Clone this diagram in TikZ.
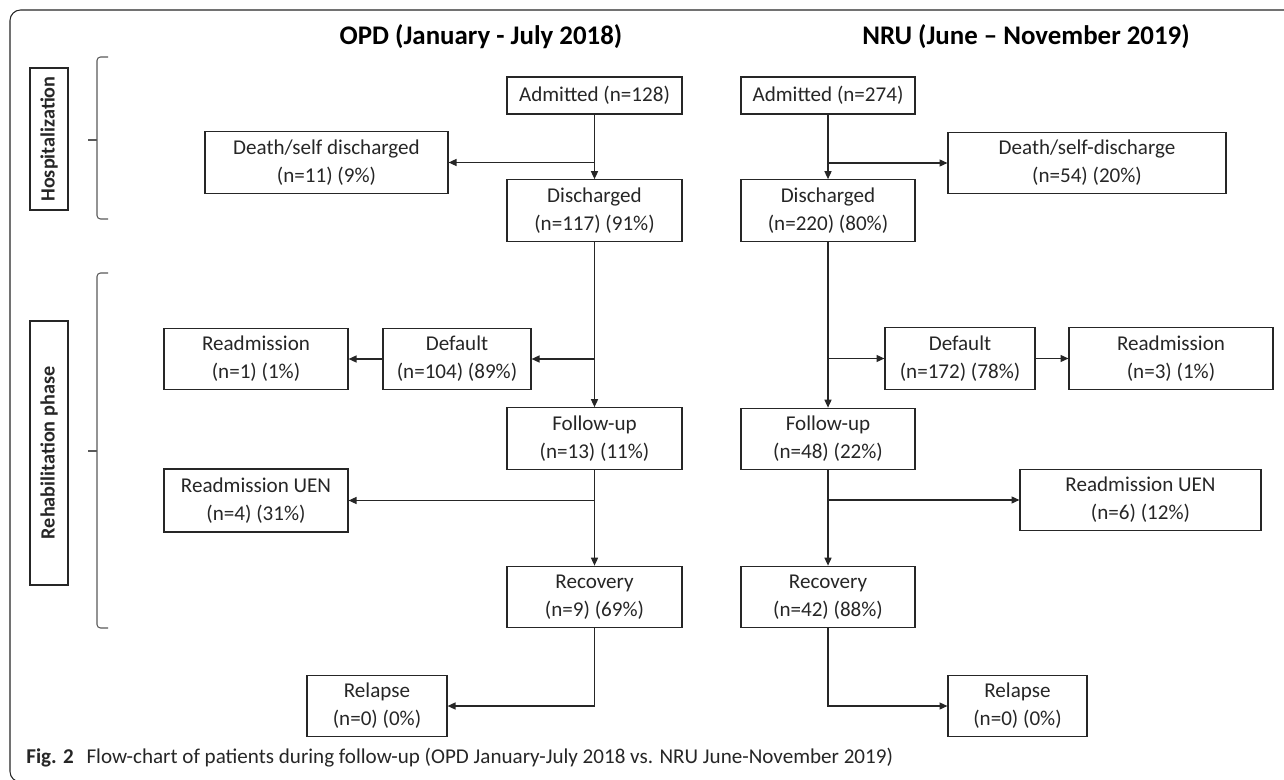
\documentclass[tikz,border=0pt]{standalone}
\usepackage{fontspec}
\setmainfont{Carlito}
\usepackage{xcolor}
\usepackage{tikz}
\usetikzlibrary{arrows.meta}

\definecolor{inkgray}{HTML}{262626}
\definecolor{bracegray}{HTML}{595959}

\begin{document}
\begin{tikzpicture}[
    x=0.02cm, y=-0.02cm,
    box/.style={draw=inkgray, line width=0.7pt, rectangle, inner sep=0pt, align=center, text=inkgray, font=\fontsize{12}{16}\selectfont, minimum height=1.23cm},
    phasebox/.style={draw=inkgray, line width=0.7pt, rotate=90, inner sep=0pt, minimum height=0.76cm, text=inkgray, font=\bfseries\fontsize{11.5}{14}\selectfont},
    arr/.style={draw=inkgray, line width=0.7pt, -{Triangle[length=4.5pt,width=4pt]}},
    brace/.style={draw=bracegray, line width=0.6pt, rounded corners=2pt}
]
\useasboundingbox (0,0) rectangle (1284,780);
\draw[inkgray, line width=0.6pt, rounded corners=6pt] (1290,10) -- (10,10) -- (10,782) -- (1290,782);

\node[font=\bfseries\fontsize{15.3}{18}\selectfont, text=black] (opdtitle) at (481,37) {OPD (January - July 2018)};
\node[font=\bfseries\fontsize{15.3}{18}\selectfont, text=black] (nrutitle) at (1026,37) {NRU (June – November 2019)};

\node[phasebox, minimum width=2.84cm] (hosp) at (49,139) {Hospitalization};
\node[phasebox, minimum width=5.28cm] (rehab) at (49,453) {Rehabilitation phase};
\draw[brace] (108,57) -- (97,57) -- (97,219) -- (108,219);
\draw[brace] (97,140) -- (88,140);
\draw[brace] (108,273) -- (97,273) -- (97,628) -- (108,628);
\draw[brace] (97,451) -- (88,451);

\node[box, minimum width=3.5cm, minimum height=0.74cm] (admO) at (594.5,95.5) {Admitted (n=128)};
\node[box, minimum width=4.86cm] (deathO) at (326.5,162.5) {Death/self discharged\\(n=11) (9\%)};
\node[box, minimum width=3.5cm] (disO) at (594.5,210.5) {Discharged\\(n=117) (91\%)};
\node[box, minimum width=2.96cm] (defO) at (457,359) {Default\\(n=104) (89\%)};
\node[box, minimum width=3.68cm] (readO) at (256,359) {Readmission\\(n=1) (1\%)};
\node[box, minimum width=3.5cm] (fupO) at (594.5,438.5) {Follow-up\\(n=13) (11\%)};
\node[box, minimum width=3.68cm, minimum height=1.26cm] (ruenO) at (256,500.5) {Readmission UEN\\(n=4) (31\%)};
\node[box, minimum width=3.5cm] (recO) at (594.5,597) {Recovery\\(n=9) (69\%)};
\node[box, minimum width=2.8cm] (relO) at (377,706) {Relapse\\(n=0) (0\%)};

\node[box, minimum width=3.48cm, minimum height=0.74cm] (admN) at (828,95.5) {Admitted (n=274)};
\node[box, minimum width=5.56cm] (deathN) at (1087,163) {Death/self-discharge\\(n=54) (20\%)};
\node[box, minimum width=3.48cm] (disN) at (828,210.5) {Discharged\\(n=220) (80\%)};
\node[box, minimum width=3cm] (defN) at (960,358.5) {Default\\(n=172) (78\%)};
\node[box, minimum width=4.08cm] (readN) at (1171,358.5) {Readmission\\(n=3) (1\%)};
\node[box, minimum width=3.48cm] (fupN) at (828,439) {Follow-up\\(n=48) (22\%)};
\node[box, minimum width=4.82cm] (ruenN) at (1140.5,500) {Readmission UEN\\(n=6) (12\%)};
\node[box, minimum width=3.48cm] (recN) at (828,597) {Recovery\\(n=42) (88\%)};
\node[box, minimum width=2.78cm] (relN) at (1017.5,706) {Relapse\\(n=0) (0\%)};

\draw[arr] (admO) -- (disO);
\draw[arr] (admO.south |- deathO.east) -- (deathO.east);
\draw[arr] (disO) -- (fupO);
\draw[arr] (disO.south |- defO.east) -- (defO.east);
\draw[arr] (defO.west) -- (readO.east);
\draw[arr] (fupO) -- (recO);
\draw[arr] (fupO.south |- ruenO.east) -- (ruenO.east);
\draw[arr] (recO.south) |- (relO.east);

\draw[arr] (admN) -- (disN);
\draw[arr] (admN.south |- deathN.west) -- (deathN.west);
\draw[arr] (disN) -- (fupN);
\draw[arr] (disN.south |- defN.west) -- (defN.west);
\draw[arr] (defN.east) -- (readN.west);
\draw[arr] (fupN) -- (recN);
\draw[arr] (fupN.south |- ruenN.west) -- (ruenN.west);
\draw[arr] (recN.south) |- (relN.west);

\node[anchor=base west, inner sep=0pt, font=\fontsize{12}{14}\selectfont, text=inkgray] (caption) at (26,763) {\textbf{Fig. 2}\hspace{0.6em}Flow-chart of patients during follow-up (OPD January-July 2018 vs. NRU June-November 2019)};
\end{tikzpicture}
\end{document}
